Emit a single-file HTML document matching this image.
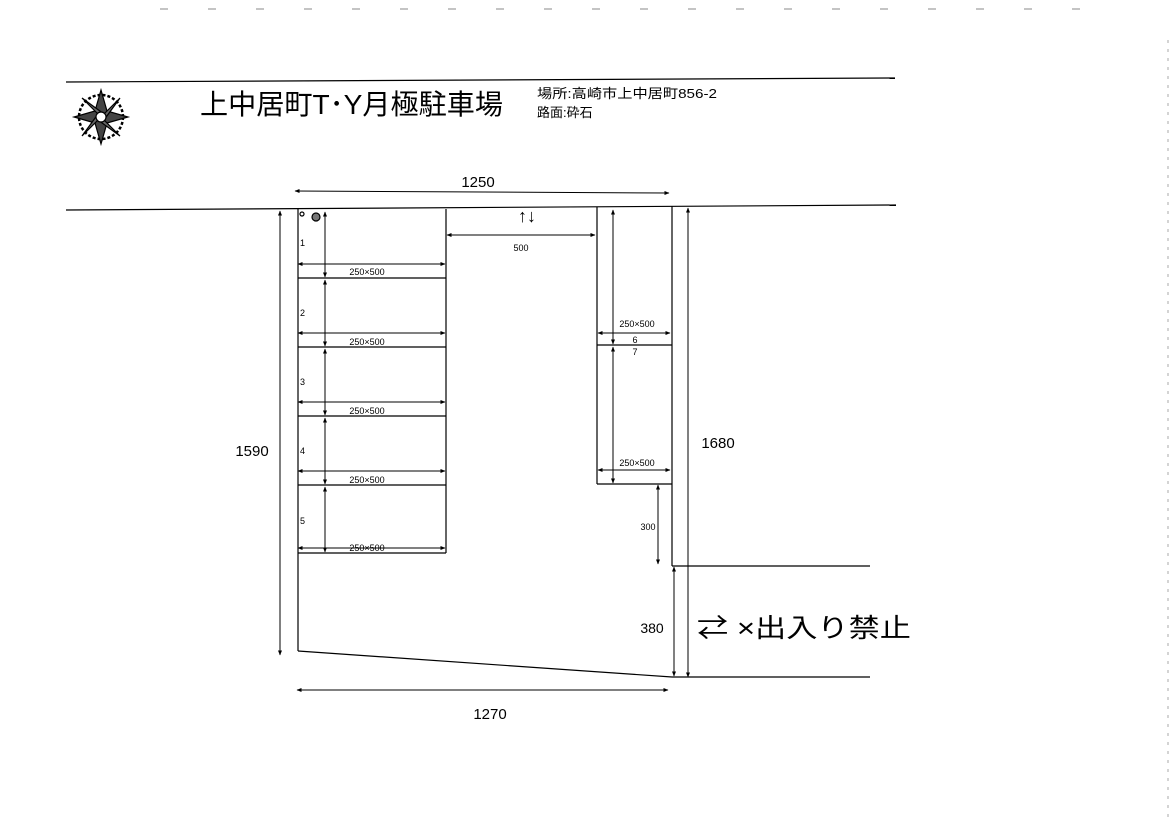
<!DOCTYPE html>
<html><head><meta charset="utf-8"><style>
html,body{margin:0;padding:0;background:#fff;}
svg{display:block;}
text{font-family:"Liberation Sans","Noto Sans CJK JP",sans-serif;fill:#000;}
</style></head><body>
<svg width="1176" height="827" viewBox="0 0 1176 827" xmlns="http://www.w3.org/2000/svg">
<defs>
<marker id="a" viewBox="0 0 10 10" refX="9" refY="5" markerWidth="5" markerHeight="5" orient="auto-start-reverse"><path d="M0,1 L10,5 L0,9 z" fill="#000"/></marker>
</defs>
<g stroke="#000" stroke-width="1.2" fill="none">
<line x1="160" y1="9" x2="1100" y2="9" stroke="#888" stroke-dasharray="8 40" stroke-width="1"/>
<line x1="1168" y1="40" x2="1168" y2="820" stroke="#aaa" stroke-dasharray="3 6" stroke-width="1"/>
<line x1="66" y1="82" x2="895" y2="78"/>
<!-- compass -->
<circle cx="101" cy="117" r="22" stroke-width="2.5" stroke-dasharray="3 2"/>
<path d="M101,90 L107,111 L128,117 L107,123 L101,144 L95,123 L74,117 L95,111 Z" fill="#444"/>
<path d="M82,98 L104,114 L120,98 L104,120 L120,136 L98,120 L82,136 L98,114 Z" fill="#666"/>
<circle cx="101" cy="117" r="5" fill="#fff"/>
<!-- road -->
<line x1="66" y1="210" x2="896" y2="205"/>
<!-- left block -->
<line x1="298" y1="209" x2="298" y2="651"/>
<line x1="446" y1="209" x2="446" y2="553"/>
<line x1="298" y1="278" x2="446" y2="278"/>
<line x1="298" y1="347" x2="446" y2="347"/>
<line x1="298" y1="416" x2="446" y2="416"/>
<line x1="298" y1="485" x2="446" y2="485"/>
<line x1="298" y1="553" x2="446" y2="553"/>
<g marker-start="url(#a)" marker-end="url(#a)" stroke-width="1">
<line x1="298" y1="264" x2="445" y2="264"/>
<line x1="298" y1="333" x2="445" y2="333"/>
<line x1="298" y1="402" x2="445" y2="402"/>
<line x1="298" y1="471" x2="445" y2="471"/>
<line x1="298" y1="548" x2="445" y2="548"/>
<line x1="325" y1="212" x2="325" y2="277"/>
<line x1="325" y1="280" x2="325" y2="346"/>
<line x1="325" y1="349" x2="325" y2="415"/>
<line x1="325" y1="418" x2="325" y2="484"/>
<line x1="325" y1="487" x2="325" y2="552"/>
<line x1="280" y1="211" x2="280" y2="655"/>
<line x1="295" y1="191" x2="669" y2="193"/>
<line x1="447" y1="235" x2="595" y2="235"/>
<line x1="598" y1="333" x2="670" y2="333"/>
<line x1="598" y1="470" x2="670" y2="470"/>
<line x1="613" y1="210" x2="613" y2="344"/>
<line x1="613" y1="347" x2="613" y2="483"/>
<line x1="658" y1="485" x2="658" y2="564"/>
<line x1="674" y1="567" x2="674" y2="676"/>
<line x1="688" y1="208" x2="688" y2="677"/>
<line x1="297" y1="690" x2="668" y2="690"/>
</g>
<!-- right block -->
<line x1="597" y1="207" x2="597" y2="484"/>
<line x1="597" y1="484" x2="672" y2="484"/>
<line x1="597" y1="345" x2="672" y2="345"/>
<line x1="672" y1="206" x2="672" y2="566"/>
<line x1="672" y1="566" x2="870" y2="566"/>
<line x1="672" y1="677" x2="870" y2="677"/>
<line x1="298" y1="651" x2="672" y2="677"/>
<circle cx="316" cy="217" r="4" fill="#777"/>
<circle cx="302" cy="214" r="2"/>
</g>
<text x="200" y="114" font-size="28" textLength="303" lengthAdjust="spacingAndGlyphs">上中居町T･Y月極駐車場</text>
<text x="537" y="98" font-size="13" textLength="180" lengthAdjust="spacingAndGlyphs">場所:高崎市上中居町856-2</text>
<text x="537" y="117" font-size="13">路面:砕石</text>
<text x="478" y="187" font-size="15" text-anchor="middle">1250</text>
<text x="527" y="222" font-size="18" text-anchor="middle">↑↓</text>
<text x="521" y="251" font-size="9" text-anchor="middle">500</text>
<g font-size="9">
<text x="300" y="246">1</text><text x="300" y="316">2</text><text x="300" y="385">3</text><text x="300" y="454">4</text><text x="300" y="524">5</text>
<text x="367" y="275" text-anchor="middle">250×500</text>
<text x="367" y="345" text-anchor="middle">250×500</text>
<text x="367" y="414" text-anchor="middle">250×500</text>
<text x="367" y="483" text-anchor="middle">250×500</text>
<text x="367" y="551" text-anchor="middle">250×500</text>
<text x="637" y="327" text-anchor="middle">250×500</text>
<text x="637" y="466" text-anchor="middle">250×500</text>
<text x="635" y="343" text-anchor="middle">6</text>
<text x="635" y="355" text-anchor="middle">7</text>
<text x="648" y="530" text-anchor="middle">300</text>
</g>
<text x="252" y="456" font-size="15" text-anchor="middle">1590</text>
<text x="718" y="448" font-size="15" text-anchor="middle">1680</text>
<text x="652" y="633" font-size="14" text-anchor="middle">380</text>
<text x="490" y="719" font-size="15" text-anchor="middle">1270</text>
<text x="697" y="637" font-size="26" textLength="214" lengthAdjust="spacingAndGlyphs">⇄ ×出入り禁止</text>
</svg>
</body></html>
